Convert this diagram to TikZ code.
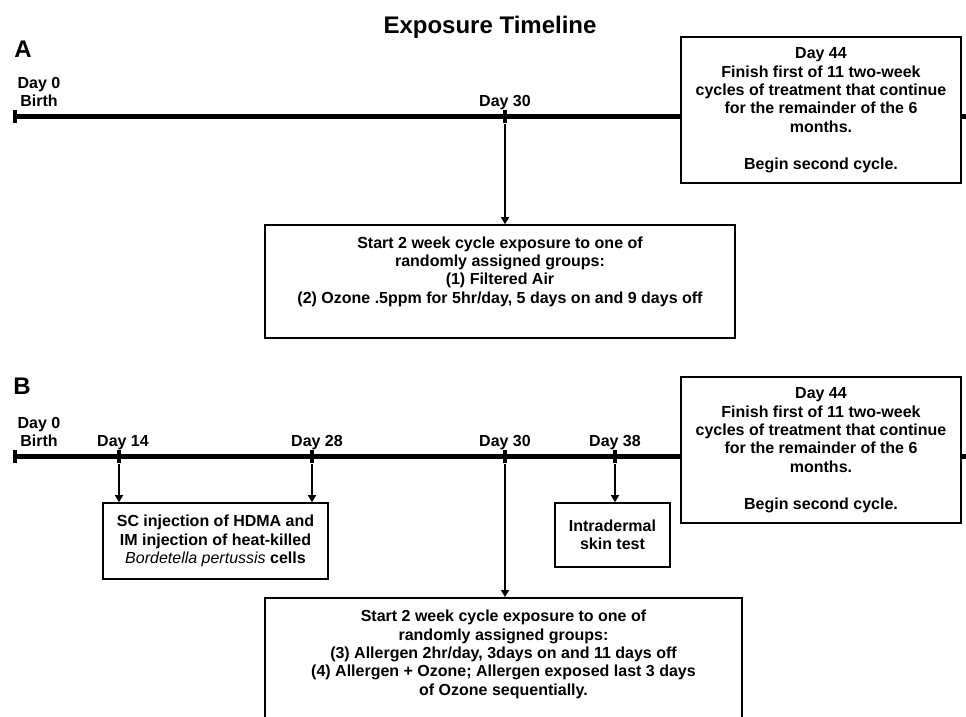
\documentclass[tikz,border=0pt]{standalone}
\usepackage{fontspec}
\setmainfont{Liberation Sans}
\usepackage{tikz}
\usetikzlibrary{arrows.meta,positioning}

\tikzset{
    tickmark/.style={fill=black, inner sep=0pt, minimum width=2pt, minimum height=6.5pt},
    daylbl/.style={font=\fontsize{8}{9.2}\selectfont\bfseries, align=center, inner sep=0pt},
    infobox/.style={draw=black, line width=0.75pt, fill=white, align=center, inner sep=0pt,
        font=\fontsize{8}{9.2}\selectfont\bfseries},
    timeline/.style={line width=2.5pt},
    arrowline/.style={line width=0.65pt, -{Triangle[length=3.5pt,width=4pt]}},
    panellbl/.style={font=\fontsize{12}{14}\selectfont\bfseries, inner sep=0pt}
}

\begin{document}
\begin{tikzpicture}[x=0.5pt, y=-0.5pt]
    \useasboundingbox (0,0) rectangle (966,717);
    \clip (0,0) rectangle (966,717);

    % Title
    \node[panellbl] (title) at (490,27) {Exposure Timeline};

    % Panel A - timeline
    \node[panellbl] (labA) at (23,49) {A};
    \node[daylbl] (birthA) at (39,92) {Day 0\\Birth};
    \node[tickmark] (t0a) at (15,117) {};
    \node[tickmark] (t30a) at (505,117) {};
    \coordinate (endA) at (966,117);
    \draw[timeline] (t0a.center) -- (endA);
    \node[daylbl] (d30a) at (505,102.5) {Day 30};

    % Panel A - boxes
    \node[infobox, minimum width=140pt, minimum height=73pt] (d44a) at (821,110)
        {Day 44\\Finish first of 11 two-week\\cycles of treatment that continue\\for the remainder of the 6\\months.\\[9.2pt]Begin second cycle.};
    \node[infobox, minimum width=235pt, minimum height=56.5pt] (grpA) at (500,281.5)
        {Start 2 week cycle exposure to one of\\randomly assigned groups:\\(1) Filtered Air\\(2) Ozone .5ppm for 5hr/day, 5 days on and 9 days off\\[2.4pt]\mbox{}};
    \draw[arrowline] (t30a.south) -- (t30a |- grpA.north);

    % Panel B - timeline
    \node[panellbl] (labB) at (22,386) {B};
    \node[daylbl] (birthB) at (39,432) {Day 0\\Birth};
    \node[tickmark] (t0b) at (15,457) {};
    \node[tickmark] (t14b) at (119,457) {};
    \node[tickmark] (t28b) at (312,457) {};
    \node[tickmark] (t30b) at (505,457) {};
    \node[tickmark] (t38b) at (615,457) {};
    \coordinate (endB) at (966,457);
    \draw[timeline] (t0b.center) -- (endB);
    \node[daylbl] (d14b) at (123,442.5) {Day 14};
    \node[daylbl] (d28b) at (317,442.5) {Day 28};
    \node[daylbl] (d30b) at (505,442.5) {Day 30};
    \node[daylbl] (d38b) at (615,442.5) {Day 38};

    % Panel B - boxes
    \node[infobox, minimum width=140pt, minimum height=73pt] (d44b) at (821,450)
        {Day 44\\Finish first of 11 two-week\\cycles of treatment that continue\\for the remainder of the 6\\months.\\[9.2pt]Begin second cycle.};
    \node[infobox, minimum width=112.5pt, minimum height=38pt] (inj) at (215.5,541)
        {SC injection of HDMA and\\IM injection of heat-killed\\\textmd{\itshape Bordetella pertussis} cells};
    \node[infobox, minimum width=57.5pt, minimum height=32pt] (skin) at (612.5,535)
        {Intradermal\\skin test};
    \node[infobox, anchor=north, minimum width=238.5pt, inner ysep=6.15pt] (grpB) at (503.5,597)
        {Start 2 week cycle exposure to one of\\randomly assigned groups:\\(3) Allergen 2hr/day, 3days on and 11 days off\\(4) Allergen + Ozone; Allergen exposed last 3 days\\of Ozone sequentially.\\[20pt]\mbox{}};

    % Arrows
    \draw[arrowline] (t14b.south) -- (t14b |- inj.north);
    \draw[arrowline] (t28b.south) -- (t28b |- inj.north);
    \draw[arrowline] (t38b.south) -- (t38b |- skin.north);
    \draw[arrowline] (t30b.south) -- (t30b |- grpB.north);
\end{tikzpicture}
\end{document}
